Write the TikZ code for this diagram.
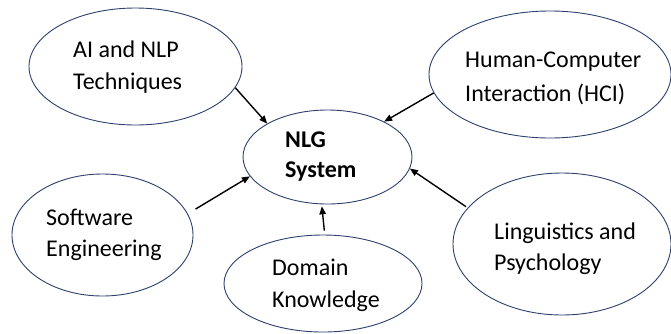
\documentclass[tikz,border=0pt]{standalone}
\usepackage{fontspec}
\setmainfont{Carlito}
\usetikzlibrary{shapes.geometric,arrows.meta}
\definecolor{ringblue}{RGB}{46,64,110}
\tikzset{
  bubble/.style={ellipse, draw=ringblue, line width=0.9pt, inner sep=0pt},
  lbl/.style={anchor=base west, inner sep=0pt, font=\fontsize{24}{31}\selectfont},
  link/.style={draw=black, line width=1.4pt, -{Triangle[length=8pt,width=6.5pt]}},
}
\newcommand{\twol}[3]{\begin{tabular}[t]{@{}l@{}}#1\\[#3]#2\end{tabular}}
\begin{document}
\begin{tikzpicture}[x=1pt,y=-1pt]
\useasboundingbox[fill=white] (0,0) rectangle (671,333);
% ellipses
\node[bubble, minimum width=213pt, minimum height=117pt] (ai)  at (135.5,66.5) {};
\node[bubble, minimum width=242pt, minimum height=127pt] (hci) at (550,74.5) {};
\node[bubble, minimum width=169pt, minimum height=94pt]  (nlg) at (327.5,157) {};
\node[bubble, minimum width=181pt, minimum height=122pt] (se)  at (102.5,235) {};
\node[bubble, minimum width=198pt, minimum height=97pt]  (dom) at (323,283.5) {};
\node[bubble, minimum width=218pt, minimum height=142pt] (lin) at (562,244) {};
% texts
\node[lbl] (tai)  at (73,57)    {\twol{AI and NLP}{Techniques}{1.5pt}};
\node[lbl] (thci) at (465,67)   {\twol{Human-Computer}{Interaction (HCI)}{3pt}};
\node[lbl] (tnlg) at (285,147)  {\bfseries\twol{NLG}{System}{-1pt}};
\node[lbl] (tse)  at (46,225.5) {\twol{Software}{Engineering}{0pt}};
\node[lbl] (tdom) at (272,275)  {\twol{Domain}{Knowledge}{1pt}};
\node[lbl] (tlin) at (494,239)  {\twol{Linguistics and}{Psychology}{0pt}};
% connectors
\draw[link] (ai.-12.4) -- (nlg.151.7);
\draw[link] (hci.189.9) -- (nlg.32.2);
\draw[link, shorten <=9pt] (se.14.5) -- (nlg.194);
\draw[link, shorten <=4pt, shorten >=2pt] (dom.88) -- (nlg.-97);
\draw[link, shorten <=2pt] (lin.159) -- (nlg.-8);
\end{tikzpicture}
\end{document}
